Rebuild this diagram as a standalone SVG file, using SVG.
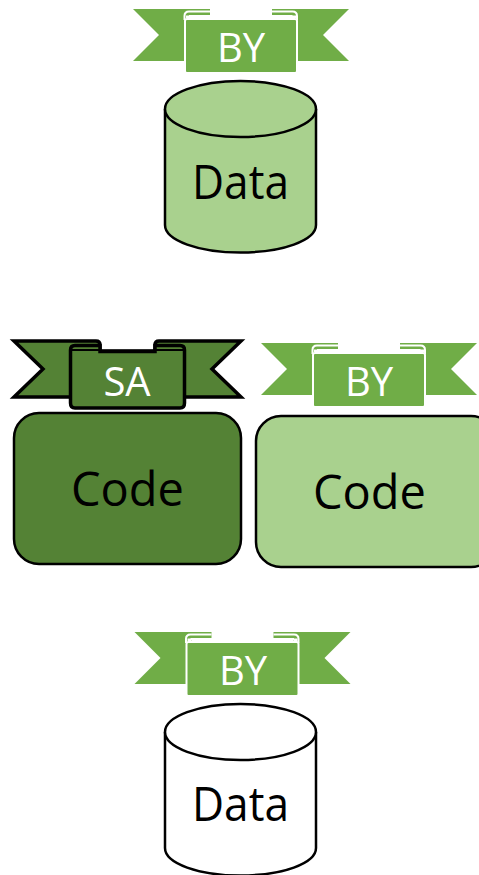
<svg xmlns="http://www.w3.org/2000/svg" width="479" height="875" viewBox="0 0 479 875">
<style>
text{font-family:"Open Sans","Noto Sans",sans-serif;text-anchor:middle}
.big{font-size:47px;fill:#000}
.tag{font-size:40px;fill:#fff}
.cyl{stroke:#000;stroke-width:2.5}
.green{fill:#70AD47}
.curl{fill:none;stroke:#fff;stroke-width:2}
</style>
<defs>
<g id="ribbon">
<path class="green" d="M133 9H210V15H272V9H349L323 35L349 61H133L159 35Z"/>
<path fill="#fff" d="M190 15H292V19H190Z"/>
<rect x="185" y="19" width="112" height="54" rx="2" class="green" stroke="#fff" stroke-width="2"/>
<path class="curl" d="M184.500 20V16Q184.500 11.500 189 11.500H210M189 16H210M297 20V16Q297 11.500 292.500 11.500H272M292.500 16H272"/>
<path fill="#fff" d="M186 15.500H190V18H186ZM292 15.500H296V18H292Z"/>
</g>
<g id="can">
<path class="cyl" d="M165 109V225C165 240.500 199 252.500 240.500 252.500S316 240.500 316 225V109"/>
<ellipse class="cyl" cx="240.500" cy="109" rx="75.500" ry="28"/>
</g>
</defs>
<g id="connectors"/>
<g id="data-top">
<use href="#can" fill="#A9D18E"/>
<use href="#ribbon"/>
<text class="tag" x="241" y="62">BY</text>
<text class="big" x="240.500" y="199" textLength="97" lengthAdjust="spacingAndGlyphs">Data</text>
</g>
<g id="code-sa">
<rect x="14" y="413" width="227" height="151" rx="25" fill="#548235" stroke="#000" stroke-width="2.500"/>
<path fill="#548235" stroke="#000" stroke-width="3.500" stroke-linejoin="miter" d="M14 341H96Q100 341 100 345V351H155V345Q155 341 159 341H241L212 369L241 397H14L43 369Z"/>
<path fill="#548235" stroke="#000" stroke-width="3.500" d="M70.500 403V350Q70.500 345.500 75 345.500H100V351.500H155V345.500H180Q184.500 345.500 184.500 350V403Q184.500 408 180 408H75Q70.500 408 70.500 403Z"/>
<path d="M72 350H100M183 350H155" fill="none" stroke="#000" stroke-width="2"/>
<text class="tag" x="127" y="396">SA</text>
<text class="big" x="127.500" y="506">Code</text>
</g>
<g id="code-by">
<rect x="256" y="416" width="240" height="151" rx="25" fill="#A9D18E" stroke="#000" stroke-width="2.500"/>
<use href="#ribbon" transform="translate(128 334)"/>
<text class="tag" x="369" y="396">BY</text>
<text class="big" x="369.500" y="509">Code</text>
</g>
<g id="data-bottom">
<use href="#can" fill="#fff" transform="translate(0 623)"/>
<use href="#ribbon" transform="translate(1.500 623)"/>
<text class="tag" x="243" y="685">BY</text>
<text class="big" x="240.500" y="821" textLength="97" lengthAdjust="spacingAndGlyphs">Data</text>
</g>
</svg>
